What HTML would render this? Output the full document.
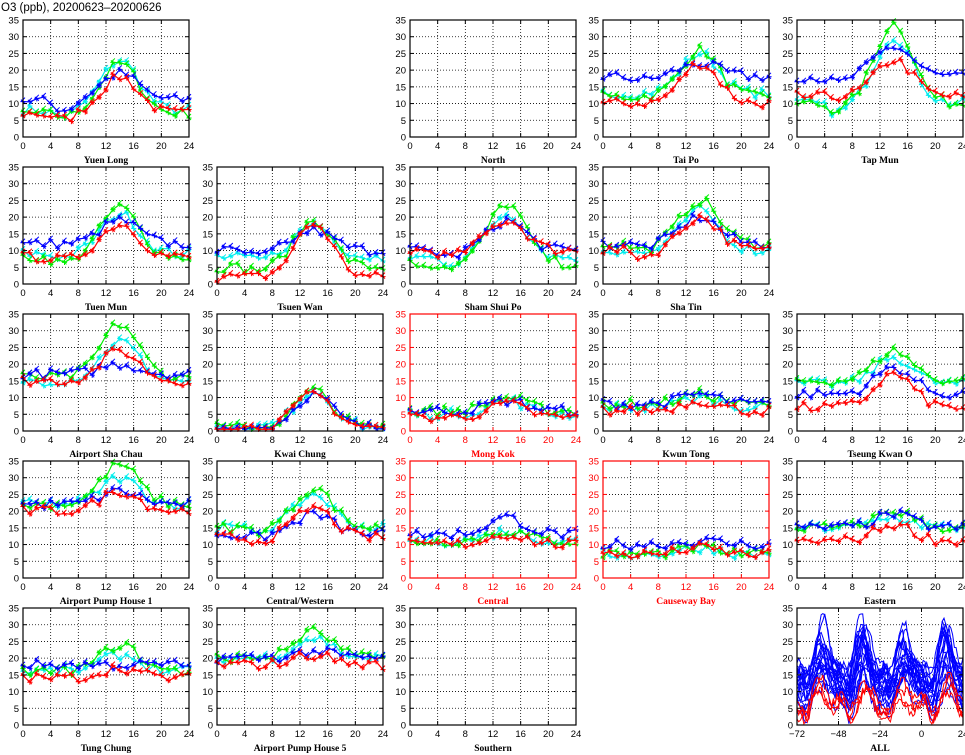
<!DOCTYPE html>
<html><head><meta charset="utf-8"><style>
body{margin:0;background:#fff;}
svg{display:block;font-family:"Liberation Sans",sans-serif;}
</style></head><body>
<svg id="s" width="965" height="755" xmlns="http://www.w3.org/2000/svg"></svg>
<script>
var S=document.getElementById('s');var out=[];
var seed=7;function rnd(){seed=(seed*16807)%2147483647;return seed/2147483647;}
out.push('<text x="1" y="11" font-size="11.5" fill="#000">O3 (ppb), 20200623\u201320200626</text>');
var colX=[23,217,410,603,797],rowY=[20,167,314,461,608],W=166,H=117;
var P=[
[0,0,'Yuen Long',0,[[7,11,2],[11,8,3],[7,15,1],[8,15,2]]],
[0,2,'North',0,null],
[0,3,'Tai Po',0,[[10,12,0],[18,4,1],[12,14,0],[13,12,0]]],
[0,4,'Tap Mun',0,[[12,11,0],[18,9,2],[10,24,2],[10,20,3]]],
[1,0,'Tuen Mun',0,[[8,10,1],[12,7,0],[8,15,2],[9,12,1]]],
[1,1,'Tsuen Wan',0,[[2,16,0],[10,6,2],[5,14,1],[8,10,1]]],
[1,2,'Sham Shui Po',0,[[10,9,2],[10,9,2],[6,18,1],[8,13,2]]],
[1,3,'Sha Tin',0,[[10,10,2],[12,8,1],[12,13,2],[10,12,1]]],
[2,0,'Airport Sha Chau',0,[[15,9,0],[17,3,0],[16,16,0],[15,12,0]]],
[2,1,'Kwai Chung',0,[[1,10,0],[1,10,0],[1,11,0],[1,11,0]]],
[2,2,'Mong Kok',1,[[4,4,0],[6,3,0],[6,4,0],[5,4,0]]],
[2,3,'Kwun Tong',0,[[6,3,0],[8,3,0],[8,3,0],[7,3,0]]],
[2,4,'Tseung Kwan O',0,[[7,10,0],[11,8,0],[15,9,0],[14,8,0]]],
[3,0,'Airport Pump House 1',0,[[20,6,0],[22,4,0],[22,12,0],[22,8,0]]],
[3,1,'Central/Western',0,[[12,9,1],[13,6,1],[15,12,1],[15,10,1]]],
[3,2,'Central',1,[[10,3,0],[13,5,0],[11,3,0],[11,3,0]]],
[3,3,'Causeway Bay',1,[[7,2,0],[10,1,0],[7,2,0],[7,2,0]]],
[3,4,'Eastern',0,[[11,5,0],[15,4,0],[15,5,0],[15,3,0]]],
[4,0,'Tung Chung',0,[[14,3,0],[18,0,0],[16,8,0],[16,5,0]]],
[4,1,'Airport Pump House 5',0,[[18,3,0],[20,2,0],[20,8,0],[20,6,0]]],
[4,2,'Southern',0,null],
[4,4,'ALL',0,'all']];
function star(x,y,c){var d=2.6;return '<path d="M'+(x-d)+' '+y+'h'+2*d+'M'+x+' '+(y-d)+'v'+2*d+'M'+(x-2)+' '+(y-2)+'l4 4M'+(x-2)+' '+(y+2)+'l4 -4" stroke="'+c+'" stroke-width="1"/>';}
P.forEach(function(p){
 var x0=colX[p[1]],y0=rowY[p[0]],red=p[3],fc=red?'#f00':'#000',all=p[4]==='all';
 var xmin=all?-72:0,xmax=24,xs=all?24:4;
 function X(v){return x0+(v-xmin)/(xmax-xmin)*W;}function Y(v){return y0+H-v/35*H;}
 var g='';
 for(var v=5;v<35;v+=5)g+='<line x1="'+x0+'" x2="'+(x0+W)+'" y1="'+Y(v)+'" y2="'+Y(v)+'" stroke="#000" stroke-width="0.8" stroke-dasharray="1,2"/>';
 for(var v=xmin+xs;v<xmax;v+=xs)g+='<line y1="'+y0+'" y2="'+(y0+H)+'" x1="'+X(v)+'" x2="'+X(v)+'" stroke="#000" stroke-width="0.8" stroke-dasharray="1,2"/>';
 if(all){
  for(var k=0;k<26;k++){var red2=k>=22,b=red2?4+rnd()*4:5+rnd()*12,pts=[];
   var amps=[];for(var d=0;d<5;d++)amps.push(red2?2+rnd()*6:2+rnd()*16);
   var ph=rnd()*6,sh=(rnd()-0.5)*4;
   for(var t=-72;t<=24;t++){var h=((t%24)+24)%24,d=Math.floor((t+72)/24);var a=amps[d];var v=b+a*Math.exp(-Math.pow((h-14-sh)/4.5,2))-3*Math.exp(-Math.pow((h-6)/2.5,2))+Math.sin(t/2.5+ph)*2.5+(rnd()-0.5)*3;v=Math.max(0.3,Math.min(35,v));pts.push(X(t).toFixed(1)+','+Y(v).toFixed(1));}
   g+='<polyline points="'+pts.join(' ')+'" fill="none" stroke="'+(red2?'#f00':'#00f')+'" stroke-width="1"/>';}
 } else if(p[4]){
  var ord=[3,2,1,0],cc=['#f00','#00f','#0e0','#0ee'];
  ord.forEach(function(i){var q=p[4][i],pts=[],m='';
   for(var h=0;h<=24;h++){var v=q[0]+q[1]*Math.exp(-Math.pow((h-14)/3.8,2))-q[2]*Math.exp(-Math.pow((h-6)/2,2))+(rnd()-0.5)*3;v=Math.max(0.5,Math.min(35,v));var px=X(h),py=Y(v);pts.push(px.toFixed(1)+','+py.toFixed(1));m+=star(px.toFixed(1),py.toFixed(1),cc[i]);}
   g+='<polyline points="'+pts.join(' ')+'" fill="none" stroke="'+cc[i]+'" stroke-width="1.2"/>'+m;});
 }
 g+='<rect x="'+x0+'" y="'+y0+'" width="'+W+'" height="'+H+'" fill="none" stroke="'+fc+'" stroke-width="1.2"/>';
 for(var v=0;v<=35;v+=5){g+='<text x="'+(x0-4)+'" y="'+(Y(v)+3.5)+'" font-size="9.5" text-anchor="end" fill="'+fc+'">'+v+'</text>';
  g+='<line x1="'+x0+'" x2="'+(x0+4)+'" y1="'+Y(v)+'" y2="'+Y(v)+'" stroke="'+fc+'"/><line x1="'+(x0+W-4)+'" x2="'+(x0+W)+'" y1="'+Y(v)+'" y2="'+Y(v)+'" stroke="'+fc+'"/>';}
 for(var v=xmin;v<=xmax;v+=xs){g+='<text x="'+X(v)+'" y="'+(y0+H+12)+'" font-size="9.5" text-anchor="middle" fill="'+fc+'">'+(v<0?'\u2212'+(-v):v)+'</text>';
  g+='<line y1="'+(y0+H)+'" y2="'+(y0+H-4)+'" x1="'+X(v)+'" x2="'+X(v)+'" stroke="'+fc+'"/><line y1="'+y0+'" y2="'+(y0+4)+'" x1="'+X(v)+'" x2="'+X(v)+'" stroke="'+fc+'"/>';}
 g+='<text x="'+(x0+W/2)+'" y="'+(y0+H+26)+'" font-size="9.5" font-weight="bold" font-family="Liberation Serif,serif" text-anchor="middle" fill="'+fc+'">'+p[2]+'</text>';
 out.push(g);
});
S.innerHTML=out.join('');
</script>
</body></html>
